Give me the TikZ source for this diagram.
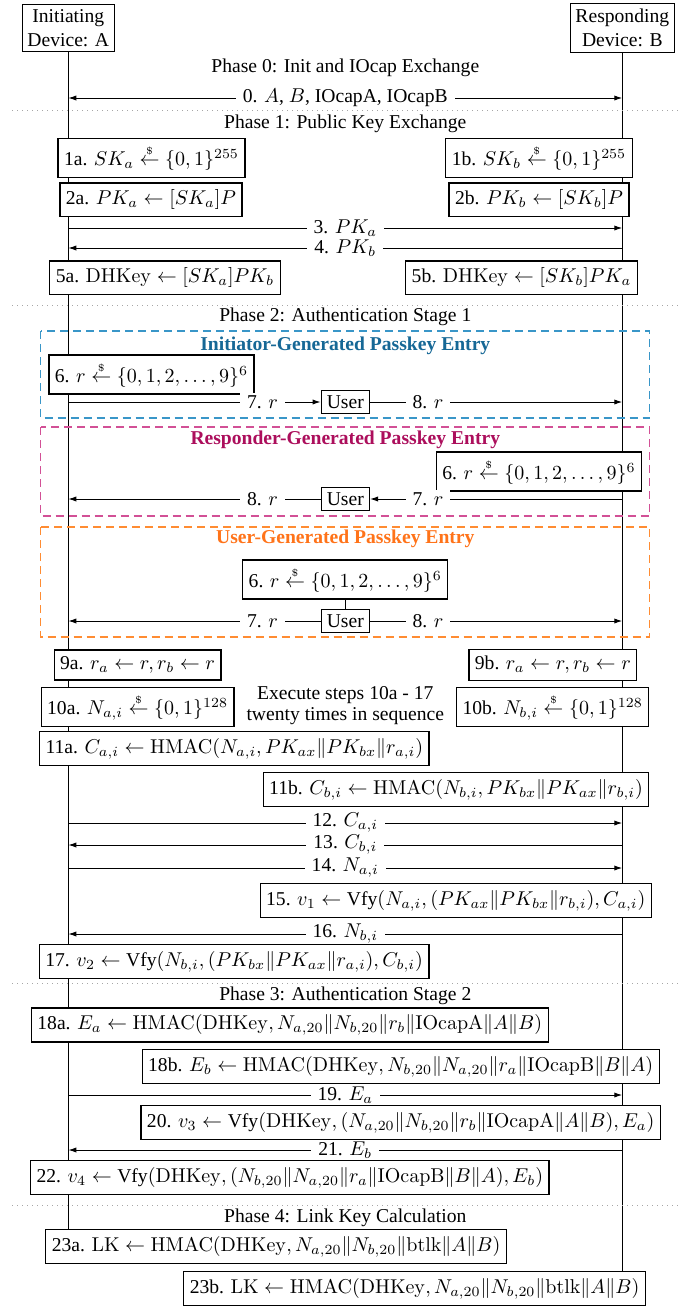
\documentclass[tikz,border=0pt]{standalone}
\usepackage{amsmath}
\usepackage[no-math]{fontspec}
\setmainfont{Liberation Serif}
\usetikzlibrary{arrows.meta,backgrounds}

\definecolor{initText}{RGB}{22,104,150}
\definecolor{initDash}{RGB}{57,150,200}
\definecolor{respText}{RGB}{172,14,92}
\definecolor{respDash}{RGB}{210,80,150}
\definecolor{userText}{RGB}{255,115,25}
\definecolor{userDash}{RGB}{255,140,50}

\newcommand{\rnd}{\mathrel{\overset{\scriptscriptstyle\$}{\leftarrow}}}
\newcommand{\cat}{\|}

\begin{document}
\begin{tikzpicture}[x=0.5pt,y=-0.5pt,
  every node/.style={font=\fontsize{9.8}{11.8}\selectfont},
  stepbox/.style={draw, fill=white, line width=0.6pt, inner xsep=3pt, inner ysep=3.3pt},
  devbox/.style={draw, fill=white, line width=0.6pt, align=center,
    inner xsep=2.5pt, inner ysep=2.6pt, font=\fontsize{9.8}{12}\selectfont},
  userbox/.style={draw, fill=white, line width=0.6pt, inner xsep=2.8pt, inner ysep=2.6pt},
  msg/.style={line width=0.5pt, -{Latex[length=4pt,width=2.6pt]}},
  msgboth/.style={line width=0.5pt, {Latex[length=4pt,width=2.6pt]}-{Latex[length=4pt,width=2.6pt]}},
  msglabel/.style={fill=white, inner xsep=3.5pt, inner ysep=1pt},
  lifeline/.style={line width=0.8pt},
  phasesep/.style={gray!70, line width=0.5pt, dash pattern=on 0.5pt off 2pt},
  phasetitle/.style={inner sep=0pt},
  modebox/.style={line width=0.6pt, dash pattern=on 4pt off 2.5pt},
  modetitle/.style={font=\fontsize{9.8}{11.8}\selectfont\bfseries, inner sep=0pt}
]
\useasboundingbox (0,0) rectangle (694,1307);

% devices
\node[devbox] (devA) at (68.3,28) {Initiating\\Device: A};
\node[devbox] (devB) at (622.3,28) {Responding\\Device: B};

% message anchor points on the two lifelines
\foreach \n/\y in {m0/98, m3/228, m4/248, m7i/402, m8i/402, m7r/499, m8r/499,
                   m7u/621, m8u/621, m12/823, m13/845, m14/868, m16/934,
                   m19/1095, m21/1150} {
  \coordinate (A\n) at (68.3,\y);
  \coordinate (B\n) at (622.3,\y);
}

% phase separators and titles
\foreach \y/\nm in {110/sepA, 305/sepB, 983/sepC, 1205/sepD} {
  \coordinate (\nm l) at (12,\y);
  \coordinate (\nm r) at (680,\y);
  \draw[phasesep] (\nm l) -- (\nm r);
}
\node[phasetitle] (ph0) at (345.3,68) {Phase 0: Init and IOcap Exchange};
\node[phasetitle] (ph1) at (345.3,124) {Phase 1: Public Key Exchange};
\node[phasetitle] (ph2) at (345.3,317) {Phase 2: Authentication Stage 1};
\node[phasetitle] (ph3) at (345.3,996) {Phase 3: Authentication Stage 2};
\node[phasetitle] (ph4) at (345.3,1218) {Phase 4: Link Key Calculation};

% Phase 0
\draw[msgboth] (Am0) -- node[msglabel] {0. $A$, $B$, IOcapA, IOcapB} (Bm0);

% Phase 1
\node[stepbox] (s1a) at (151.5,158) {1a. $SK_a \rnd \{0,1\}^{255}$};
\node[stepbox] (s1b) at (539,158) {1b. $SK_b \rnd \{0,1\}^{255}$};
\node[stepbox] (s2a) at (151,199.5) {2a. $PK_a \leftarrow [SK_a]P$};
\node[stepbox] (s2b) at (539,199.5) {2b. $PK_b \leftarrow [SK_b]P$};
\draw[msg] (Am3) -- node[msglabel] {3. $PK_a$} (Bm3);
\draw[msg] (Bm4) -- node[msglabel] {4. $PK_b$} (Am4);
\node[stepbox] (s5a) at (165,277.5) {5a. $\mathrm{DHKey} \leftarrow [SK_a]PK_b$};
\node[stepbox] (s5b) at (521.5,277.5) {5b. $\mathrm{DHKey} \leftarrow [SK_b]PK_a$};

% Phase 2: passkey entry variants
\draw[modebox, initDash] (40.7,331) rectangle (649.6,418);
\draw[modebox, respDash] (40.7,427) rectangle (649.6,516);
\draw[modebox, userDash] (40.7,527) rectangle (649.6,637);

\node[modetitle, text=initText] (tInit) at (345.3,346) {Initiator-Generated Passkey Entry};
\node[stepbox] (s6i) at (151.5,374.5) {6. $r \rnd \{0,1,2,\ldots,9\}^6$};
\node[userbox] (ui) at (345.3,402) {User};
\draw[msg] (Am7i) -- node[msglabel, pos=0.77] {7. $r$} (ui.west);
\draw[msg] (ui.east) -- node[msglabel, pos=0.23] {8. $r$} (Bm8i);

\node[modetitle, text=respText] (tResp) at (345.3,440) {Responder-Generated Passkey Entry};
\node[stepbox] (s6r) at (539,471.5) {6. $r \rnd \{0,1,2,\ldots,9\}^6$};
\node[userbox] (ur) at (345.3,499) {User};
\draw[msg] (Bm7r) -- node[msglabel, pos=0.77] {7. $r$} (ur.east);
\draw[msg] (ur.west) -- node[msglabel, pos=0.23] {8. $r$} (Am8r);

\node[modetitle, text=userText] (tUser) at (345.3,539) {User-Generated Passkey Entry};
\node[stepbox] (s6u) at (345.3,579.5) {6. $r \rnd \{0,1,2,\ldots,9\}^6$};
\node[userbox] (uu) at (345.3,621) {User};
\draw[line width=0.6pt] (s6u.south) -- (uu.north);
\draw[msg] (uu.west) -- node[msglabel, pos=0.23] {7. $r$} (Am7u);
\draw[msg] (uu.east) -- node[msglabel, pos=0.23] {8. $r$} (Bm8u);

% Phase 2: commitment rounds
\node[stepbox] (s9a) at (137.6,665) {9a. $r_a \leftarrow r, r_b \leftarrow r$};
\node[stepbox] (s9b) at (552.9,665) {9b. $r_a \leftarrow r, r_b \leftarrow r$};
\node[stepbox] (s10a) at (137.6,707) {10a. $N_{a,i} \rnd \{0,1\}^{128}$};
\node[stepbox] (s10b) at (552.7,707) {10b. $N_{b,i} \rnd \{0,1\}^{128}$};
\node[align=center, inner sep=0pt, font=\fontsize{9.8}{10.5}\selectfont] (loop) at (345.3,705.5)
  {Execute steps 10a - 17\\twenty times in sequence};
\node[stepbox] (s11a) at (234.3,748.5)
  {11a. $C_{a,i} \leftarrow \mathrm{HMAC}(N_{a,i}, PK_{ax}\cat PK_{bx}\cat r_{a,i})$};
\node[stepbox] (s11b) at (456,789.5)
  {11b. $C_{b,i} \leftarrow \mathrm{HMAC}(N_{b,i}, PK_{bx}\cat PK_{ax}\cat r_{b,i})$};
\draw[msg] (Am12) -- node[msglabel] {12. $C_{a,i}$} (Bm12);
\draw[msg] (Bm13) -- node[msglabel] {13. $C_{b,i}$} (Am13);
\draw[msg] (Am14) -- node[msglabel] {14. $N_{a,i}$} (Bm14);
\node[stepbox] (s15) at (455.8,900.5)
  {15. $v_1 \leftarrow \text{Vfy}(N_{a,i}, (PK_{ax}\cat PK_{bx}\cat r_{b,i}), C_{a,i})$};
\draw[msg] (Bm16) -- node[msglabel] {16. $N_{b,i}$} (Am16);
\node[stepbox] (s17) at (234.1,961.5)
  {17. $v_2 \leftarrow \text{Vfy}(N_{b,i}, (PK_{bx}\cat PK_{ax}\cat r_{a,i}), C_{b,i})$};

% Phase 3
\node[stepbox] (s18a) at (289.8,1025)
  {18a. $E_a \leftarrow \mathrm{HMAC}(\mathrm{DHKey}, N_{a,20}\cat N_{b,20}\cat r_b\cat \mathrm{IOcapA}\cat A\cat B)$};
\node[stepbox] (s18b) at (400.7,1066.5)
  {18b. $E_b \leftarrow \mathrm{HMAC}(\mathrm{DHKey}, N_{b,20}\cat N_{a,20}\cat r_a\cat \mathrm{IOcapB}\cat B\cat A)$};
\draw[msg] (Am19) -- node[msglabel] {19. $E_a$} (Bm19);
\node[stepbox] (s20) at (400.7,1122.5)
  {20. $v_3 \leftarrow \text{Vfy}(\mathrm{DHKey}, (N_{a,20}\cat N_{b,20}\cat r_b\cat \mathrm{IOcapA}\cat A\cat B), E_a)$};
\draw[msg] (Bm21) -- node[msglabel] {21. $E_b$} (Am21);
\node[stepbox] (s22) at (289.8,1177.5)
  {22. $v_4 \leftarrow \text{Vfy}(\mathrm{DHKey}, (N_{b,20}\cat N_{a,20}\cat r_a\cat \mathrm{IOcapB}\cat B\cat A), E_b)$};

% Phase 4
\node[stepbox] (s23a) at (276.1,1246.5)
  {23a. $\mathrm{LK} \leftarrow \mathrm{HMAC}(\mathrm{DHKey}, N_{a,20}\cat N_{b,20}\cat \mathrm{btlk}\cat A\cat B)$};
\node[stepbox] (s23b) at (414.6,1288.5)
  {23b. $\mathrm{LK} \leftarrow \mathrm{HMAC}(\mathrm{DHKey}, N_{a,20}\cat N_{b,20}\cat \mathrm{btlk}\cat A\cat B)$};

% lifelines behind everything
\begin{scope}[on background layer]
  \fill[white] (0,0) rectangle (694,1307);
  \draw[lifeline] (devA.south) -- (devA.south |- s23a.north);
  \draw[lifeline] (devB.south) -- (devB.south |- s23b.north);
\end{scope}
\end{tikzpicture}
\end{document}
